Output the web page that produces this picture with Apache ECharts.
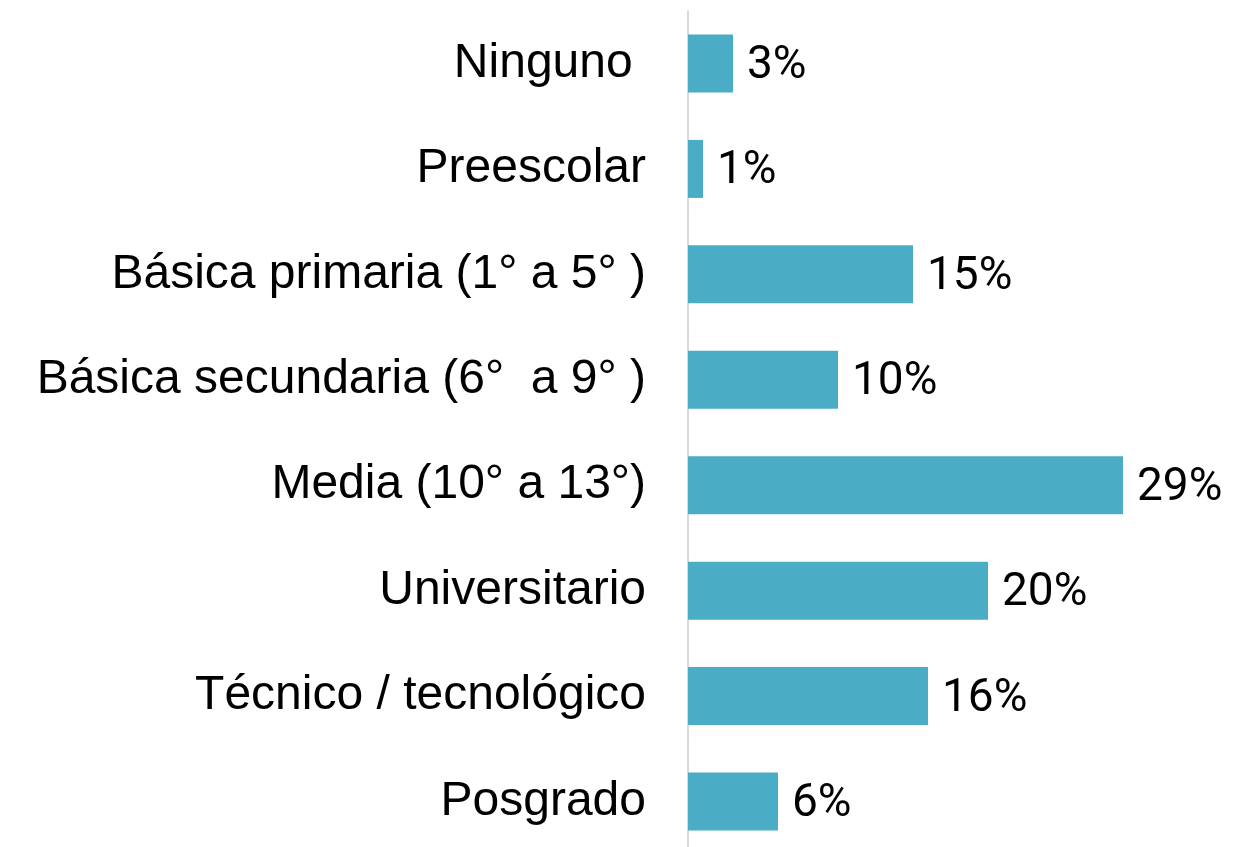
<!DOCTYPE html>
<html>
<head>
<meta charset="utf-8">
<script src="https://cdn.jsdelivr.net/npm/echarts@6/dist/echarts.min.js"></script>
<style>
  html, body { margin: 0; padding: 0; background: #fff; }
  #chart { width: 1241px; height: 847px; }
</style>
</head>
<body>
<div id="chart"></div>
<script>
// nivel educativo - porcentajes
const categories = [
  'Ninguno ',
  'Preescolar',
  'Básica primaria (1° a 5° )',
  'Básica secundaria (6°  a 9° )',
  'Media (10° a 13°)',
  'Universitario',
  'Técnico / tecnológico',
  'Posgrado'
]
const values = [3, 1, 15, 10, 29, 20, 16, 6]

const chart = echarts.init(document.getElementById('chart'))

chart.setOption({
  animation: false,
  grid: [
    // bars: first and last category sit on the grid edges
    { left: 688, top: 63.5, width: 525, bottom: 45.5 },
    // only for the vertical axis line, full height
    { left: 688, top: 11, width: 525, bottom: 0 }
  ],
  xAxis: [
    { type: 'value', gridIndex: 0, min: 0, max: 35, show: false },
    { type: 'value', gridIndex: 1, min: 0, max: 35, show: false }
  ],
  yAxis: [
    {
      type: 'category',
      gridIndex: 0,
      inverse: true,
      boundaryGap: false,
      data: categories,
      axisLine: { show: false },
      axisTick: { show: false },
      splitLine: { show: false },
      axisLabel: {
        margin: 42,
        fontFamily: 'Liberation Sans, Arial, sans-serif',
        fontSize: 48,
        color: '#000'
      }
    },
    {
      type: 'value',
      gridIndex: 1,
      axisLine: { show: true, lineStyle: { color: '#d9d9d9', width: 2 } },
      axisTick: { show: false },
      axisLabel: { show: false },
      splitLine: { show: false }
    }
  ],
  series: [
    {
      type: 'bar',
      xAxisIndex: 0,
      yAxisIndex: 0,
      data: values,
      barWidth: 58,
      itemStyle: { color: '#4bacc6' },
      label: {
        show: true,
        position: 'right',
        distance: 14,
        offset: [0, 3],
        fontFamily: 'Roboto, sans-serif',
        fontSize: 46,
        color: '#000',
        formatter: (p) => p.value + '%'
      }
    }
  ]
})
</script>
</body>
</html>
